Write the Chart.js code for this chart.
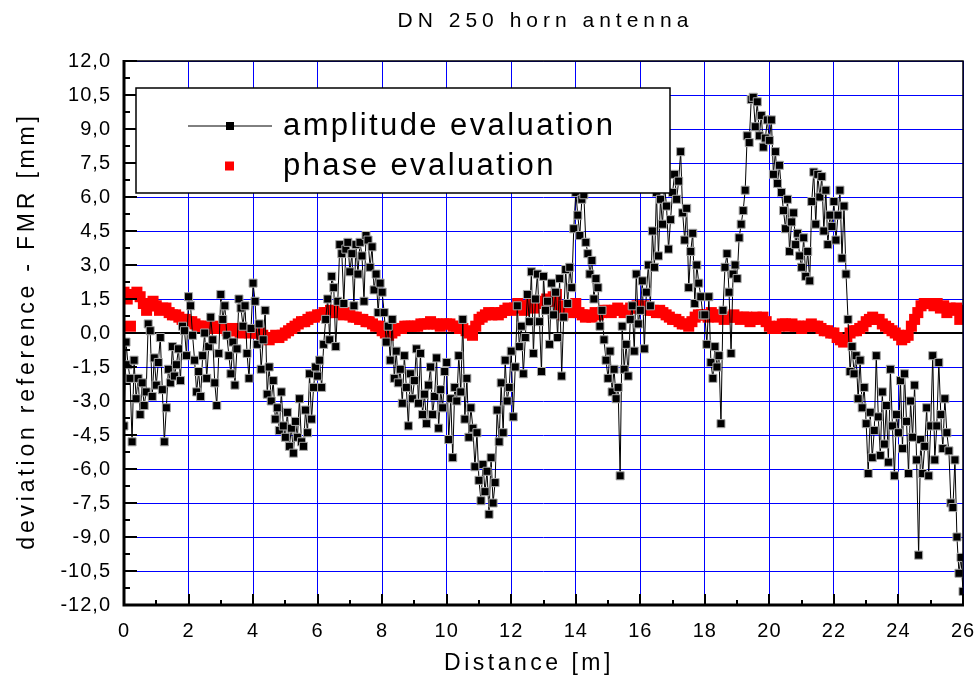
<!DOCTYPE html>
<html>
<head>
<meta charset="utf-8">
<title>DN 250 horn antenna</title>
<script src="https://cdn.jsdelivr.net/npm/chart.js@4.4.1/dist/chart.umd.min.js"></script>
<style>
  html, body { margin: 0; padding: 0; background: #fff; }
</style>
</head>
<body>
<canvas id="horn-chart" width="979" height="679"></canvas>
<script>
// sampling steps along the measuring distance [m]
const AMP_STEP = 0.0625;
const PHASE_STEP = 0.1;

// deviation reference - FMR [mm], amplitude evaluation (16 values per metre)
const amplitude = [
  -4.1, -0.4, -1.4, -2.0, -4.8, -1.2, -2.9, -2.0, -3.6, -2.2, -3.2, -2.6, 0.4, 0.1, -2.8, -1.1,
  -2.3, -1.3, -0.2, -2.5, -4.8, -3.3, -1.6, -2.2, -0.6, -1.9, -1.4, -0.7, -2.1, 0.3, 0.1, -1.0,
  1.6, 1.2, -0.1, -1.2, -2.6, -1.7, -2.8, -1.0, 0.0, -2.0, -0.6, 0.7, -0.3, -2.2, -3.2, -0.9,
  1.7, 0.6, 1.2, -0.1, -1.0, -1.8, -0.4, -2.3, -0.7, 1.5, 1.1, 0.3, 1.2, -0.9, -2.0, 0.2,
  2.2, 1.4, -0.5, 0.4, -1.6, -0.3, 1.0, -2.7, -1.5, -3.0, -2.1, -3.8, -3.3, -4.3, -2.6, -4.1,
  -4.6, -3.5, -5.0, -4.2, -5.3, -3.9, -4.6, -2.9, -4.8, -5.0, -3.4, -4.4, -1.8, -3.8, -2.4, -1.5,
  -1.9, -1.2, -2.4, -0.5, 0.6, 1.5, -0.3, 2.5, 2.0, -0.6, 1.4, 3.9, 3.5, 1.3, 3.7, 4.0,
  2.7, 3.5, 1.2, 3.9, 2.6, 4.0, 3.4, 1.4, 4.3, 4.1, 2.9, 3.8, 1.9, 2.6, 0.9, 2.2,
  1.8, 0.9, -0.4, 0.3, -1.2, 0.6, -2.0, -0.8, -2.2, -1.6, -3.1, -1.0, -2.4, -4.1, -1.8, -2.9,
  -2.1, -0.7, -3.1, -0.9, -3.6, -2.7, -4.0, -2.3, -1.5, -3.6, -2.8, -1.1, -4.2, -2.5, -3.3, -1.7,
  -1.3, -4.7, -2.9, -5.5, -2.4, -3.0, -1.0, -2.6, 0.6, -3.8, -2.0, -4.6, -3.3, -4.2, -5.9, -4.4,
  -6.5, -7.4, -5.8, -7.0, -6.1, -8.0, -5.5, -7.5, -6.6, -3.4, -4.8, -2.2, -4.4, -1.2, -3.0, -2.4,
  -0.8, -3.7, -1.5, 1.2, -0.6, 0.3, -1.8, -0.2, 1.7, 0.5, 2.7, -0.9, 1.5, 2.6, 0.5, -1.7,
  2.5, 1.0, 1.4, -0.5, 2.2, 0.8, 1.8, -0.2, 2.4, -1.9, 0.7, 2.8, 1.3, 2.9, 2.0, 4.6,
  6.2, 5.2, 4.3, 5.9, 6.1, 4.0, 3.5, 2.6, 3.2, 1.5, 2.4, 2.0, 0.3, 1.0, -0.3, -1.2,
  -2.0, -0.8, -2.6, -1.6, -2.9, -2.4, -6.3, 0.3, -1.6, -0.5, -1.9, 0.6, 1.2, -0.8, 2.6, 0.4,
  1.0, 2.3, -0.7, 1.8, 3.0, 1.2, 4.5, 2.9, 6.2, 3.4, 5.9, 4.8, 6.5, 5.6, 3.7, 5.0,
  6.2, 7.0, 5.9, 6.7, 8.0, 5.3, 4.1, 5.5, 2.0, 3.6, 4.4, 1.3, 3.0, 2.2, 1.6, 0.8,
  0.8, -0.5, 1.6, -1.3, -2.0, -0.6, -1.5, -1.0, -4.0, 1.0, 2.9, 3.5, 1.8, -0.9, 2.6, 3.0,
  2.4, 4.2, 4.8, 5.4, 6.3, 8.7, 8.4, 10.3, 10.4, 9.1, 10.2, 8.7, 9.6, 8.2, 8.6, 9.4,
  8.5, 9.4, 7.0, 8.0, 6.6, 7.4, 6.2, 5.4, 4.6, 5.9, 3.6, 4.9, 5.3, 3.9, 4.4, 3.4,
  2.9, 4.2, 2.5, 3.6, 2.3, 5.8, 7.1, 4.8, 7.0, 6.0, 6.9, 4.5, 6.3, 3.9, 5.2, 4.7,
  5.8, 4.1, 5.2, 6.3, 3.3, 5.6, 2.6, 0.6, -1.7, -0.6, -1.8, -1.0, -2.9, -1.2, -3.3, -2.4,
  -4.0, -6.2, -3.5, -5.5, -4.3, -1.0, -3.7, -5.4, -2.6, -4.9, -3.2, -5.7, -1.6, -4.1, -6.3, -3.6,
  -4.4, -2.1, -5.1, -1.8, -3.9, -6.2, -3.0, -4.6, -2.3, -5.6, -9.8, -4.7, -6.2, -5.0, -3.3, -6.3,
  -4.1, -1.0, -5.6, -4.1, -1.3, -3.6, -5.1, -2.9, -4.4, -5.2, -7.5, -7.7, -5.6, -9.0, -10.6, -9.9,
  -11.4
];

// deviation reference - FMR [mm], phase evaluation (10 values per metre)
const phase = [
  1.8, 1.5, 0.3, 1.7, 1.8, 1.6, 1.3, 1.0, 1.2, 1.4,
  1.2, 1.0, 1.1, 1.1, 0.9, 0.8, 0.8, 0.7, 0.6, 0.6,
  0.5, 0.5, 0.4, 0.3, 0.3, 0.3, 0.2, 0.2, 0.3, 0.2,
  0.2, 0.2, 0.1, 0.1, 0.2, 0.1, 0.0, 0.1, 0.1, 0.0,
  0.1, 0.0, 0.0, -0.1, -0.2, -0.3, -0.2, -0.1, -0.2, -0.1,
  0.0, 0.1, 0.2, 0.3, 0.4, 0.5, 0.5, 0.6, 0.7, 0.7,
  0.8, 0.8, 0.9, 0.9, 1.0, 0.9, 1.0, 0.9, 0.8, 0.9,
  0.8, 0.7, 0.7, 0.6, 0.6, 0.5, 0.5, 0.4, 0.3, 0.3,
  0.1, 0.0, -0.1, 0.0, 0.1, 0.2, 0.2, 0.3, 0.3, 0.3,
  0.3, 0.3, 0.4, 0.4, 0.4, 0.5, 0.4, 0.4, 0.3, 0.4,
  0.4, 0.4, 0.3, 0.3, 0.2, 0.2, 0.1, 0.0, -0.1, 0.3,
  0.6, 0.7, 0.8, 0.9, 0.8, 0.9, 0.8, 0.9, 1.0, 1.1,
  1.0, 1.1, 1.3, 1.2, 1.0, 1.2, 1.3, 1.1, 1.3, 1.4,
  1.3, 1.5, 1.4, 1.6, 1.7, 1.2, 0.8, 1.0, 0.9, 1.2,
  1.3, 0.9, 0.8, 0.7, 0.8, 0.7, 0.9, 0.8, 0.9, 1.0,
  1.0, 0.9, 1.0, 1.1, 1.0, 0.9, 1.0, 1.1, 1.1, 1.2,
  1.1, 1.2, 1.1, 1.0, 1.0, 0.9, 1.0, 0.9, 0.8, 0.7,
  0.6, 0.6, 0.5, 0.4, 0.4, 0.3, 0.5, 0.7, 0.8, 0.8,
  0.8, 0.7, 0.9, 0.8, 0.7, 0.8, 0.6, 0.7, 0.7, 0.8,
  0.7, 0.6, 0.7, 0.7, 0.5, 0.6, 0.7, 0.6, 0.7, 0.5,
  0.3, 0.2, 0.2, 0.3, 0.4, 0.4, 0.3, 0.4, 0.3, 0.3,
  0.2, 0.3, 0.3, 0.4, 0.3, 0.3, 0.2, 0.1, 0.1, 0.0,
  0.0, -0.2, -0.3, -0.4, -0.3, 0.0, 0.1, 0.1, 0.2, 0.3,
  0.5, 0.6, 0.7, 0.6, 0.6, 0.4, 0.3, 0.2, 0.1, 0.0,
  -0.1, -0.3, -0.2, -0.1, 0.3, 0.6, 0.9, 1.2, 1.3, 1.3,
  1.3, 1.2, 1.3, 1.1, 1.2, 0.9, 1.1, 1.0, 1.1, 0.6,
  1.0
];

const seriesNames = ['amplitude evaluation', 'phase evaluation'];
const titleText = 'DN 250 horn antenna';
const xTitle = 'Distance [m]';
const yTitle = 'deviation reference - FMR [mm]';

// axis ranges and tick steps
const xRange = [0, 26], xMajor = 2, xMinor = 1;
const yRange = [-12, 12], yMajor = 1.5, yMinor = 0.75;

const toPoints = (vals, step) => vals.map((v, i) => ({ x: +(i * step).toFixed(4), y: v }));

const FONT = "'Liberation Sans', Arial, Helvetica, sans-serif";
const BLUE = '#0000ff';

const decorations = {
  id: 'decorations',
  beforeDraw(chart) {
    chart.ctx.letterSpacing = '1px';
  },
  beforeDatasetsDraw(chart) {
    const { ctx, chartArea: a, scales: { y } } = chart;
    const py = Math.round(y.getPixelForValue(0));
    ctx.save();
    ctx.strokeStyle = '#000';
    ctx.lineWidth = 2;
    ctx.beginPath();
    ctx.moveTo(a.left, py);
    ctx.lineTo(a.right, py);
    ctx.stroke();
    ctx.restore();
  },
  afterDatasetsDraw(chart) {
    const { ctx, chartArea: a, scales: { x, y } } = chart;
    ctx.save();
    ctx.strokeStyle = '#000';
    ctx.lineCap = 'butt';

    // thin frame top / right
    ctx.lineWidth = 1.5;
    ctx.beginPath();
    ctx.moveTo(a.left, a.top);
    ctx.lineTo(a.right, a.top);
    ctx.lineTo(a.right, a.bottom);
    ctx.stroke();

    // heavy axes left / bottom
    ctx.lineWidth = 3;
    ctx.beginPath();
    ctx.moveTo(a.left, a.top - 1);
    ctx.lineTo(a.left, a.bottom);
    ctx.lineTo(a.right + 1, a.bottom);
    ctx.stroke();

    // inward ticks
    ctx.lineWidth = 2;
    ctx.beginPath();
    for (let v = xRange[0]; v <= xRange[1]; v += xMinor) {
      const px = Math.round(x.getPixelForValue(v));
      const len = v % xMajor === 0 ? 11 : 5;
      ctx.moveTo(px, a.bottom);
      ctx.lineTo(px, a.bottom - len);
    }
    for (let v = yRange[0]; v <= yRange[1]; v += yMinor) {
      const py = Math.round(y.getPixelForValue(v));
      const len = Math.abs(v % yMajor) < 1e-9 ? 13 : 6;
      ctx.moveTo(a.left, py);
      ctx.lineTo(a.left + len, py);
    }
    ctx.stroke();

    // legend box
    const bx = 136, by = 88, bw = 534, bh = 105;
    ctx.fillStyle = '#fff';
    ctx.fillRect(bx, by, bw, bh);
    ctx.lineWidth = 1.5;
    ctx.strokeRect(bx, by, bw, bh);

    const rowY = [126, 166];
    ctx.lineWidth = 1;
    ctx.beginPath();
    ctx.moveTo(188, rowY[0]);
    ctx.lineTo(272, rowY[0]);
    ctx.stroke();
    ctx.fillStyle = '#000';
    ctx.fillRect(226, rowY[0] - 4, 8, 8);
    ctx.fillStyle = '#ff0000';
    ctx.fillRect(225, rowY[1] - 4.5, 9, 9);

    ctx.fillStyle = '#000';
    ctx.font = '31px ' + FONT;
    ctx.letterSpacing = '2.4px';
    ctx.textAlign = 'left';
    ctx.textBaseline = 'middle';
    ctx.fillText(seriesNames[0], 283, rowY[0]);
    ctx.fillText(seriesNames[1], 283, rowY[1]);
    ctx.restore();
  },
  afterDraw(chart) {
    const { ctx, chartArea: a } = chart;
    const cx = (a.left + a.right) / 2;
    ctx.save();
    ctx.fillStyle = '#000';
    ctx.textAlign = 'center';
    ctx.textBaseline = 'middle';

    ctx.font = '21px ' + FONT;
    ctx.letterSpacing = '5px';
    ctx.fillText(titleText, cx + 2, 21);

    ctx.font = '23px ' + FONT;
    ctx.letterSpacing = '3.5px';
    ctx.fillText(xTitle, 529, 664);

    ctx.letterSpacing = '3.8px';
    ctx.translate(28, (a.top + a.bottom) / 2);
    ctx.rotate(-Math.PI / 2);
    ctx.fillText(yTitle, 2, 0);
    ctx.restore();
  }
};

const ctx = document.getElementById('horn-chart').getContext('2d');

const hornChart = new Chart(ctx, {
  type: 'line',
  data: {
    datasets: [{
      label: seriesNames[0],
      data: toPoints(amplitude, AMP_STEP),
      borderColor: '#000',
      borderWidth: 1,
      tension: 0,
      pointStyle: 'rect',
      pointRadius: 5.7,
      pointBackgroundColor: '#000',
      pointBorderColor: '#a8a8a8',
      pointBorderWidth: 1
    }, {
      label: seriesNames[1],
      data: toPoints(phase, PHASE_STEP),
      showLine: false,
      pointStyle: 'rect',
      pointRadius: 7.8,
      pointBackgroundColor: '#ff0000',
      pointBorderWidth: 0
    }]
  },
  options: {
    responsive: false,
    animation: false,
    events: [],
    layout: { padding: { top: 61, right: 16, left: 0, bottom: 0 } },
    plugins: {
      legend: { display: false },
      title: { display: false },
      tooltip: { enabled: false }
    },
    scales: {
      x: {
        type: 'linear',
        min: xRange[0],
        max: xRange[1],
        afterFit: scale => {
          scale.height = 74;
          scale.paddingLeft = 0;
          scale.paddingRight = 0;
        },
        border: { display: false },
        grid: { color: BLUE, lineWidth: 1, drawTicks: false },
        ticks: {
          stepSize: xMajor,
          padding: 14,
          color: '#000',
          font: { family: FONT, size: 20 },
          maxRotation: 0
        }
      },
      y: {
        type: 'linear',
        min: yRange[0],
        max: yRange[1],
        afterFit: scale => {
          scale.width = 124;
          scale.paddingTop = 0;
          scale.paddingBottom = 0;
        },
        border: { display: false },
        grid: { color: BLUE, lineWidth: 1, drawTicks: false },
        ticks: {
          stepSize: yMajor,
          padding: 13,
          color: '#000',
          font: { family: FONT, size: 20 },
          callback: v => v.toFixed(1).replace('.', ',')
        }
      }
    }
  },
  plugins: [decorations]
});
</script>
</body>
</html>
